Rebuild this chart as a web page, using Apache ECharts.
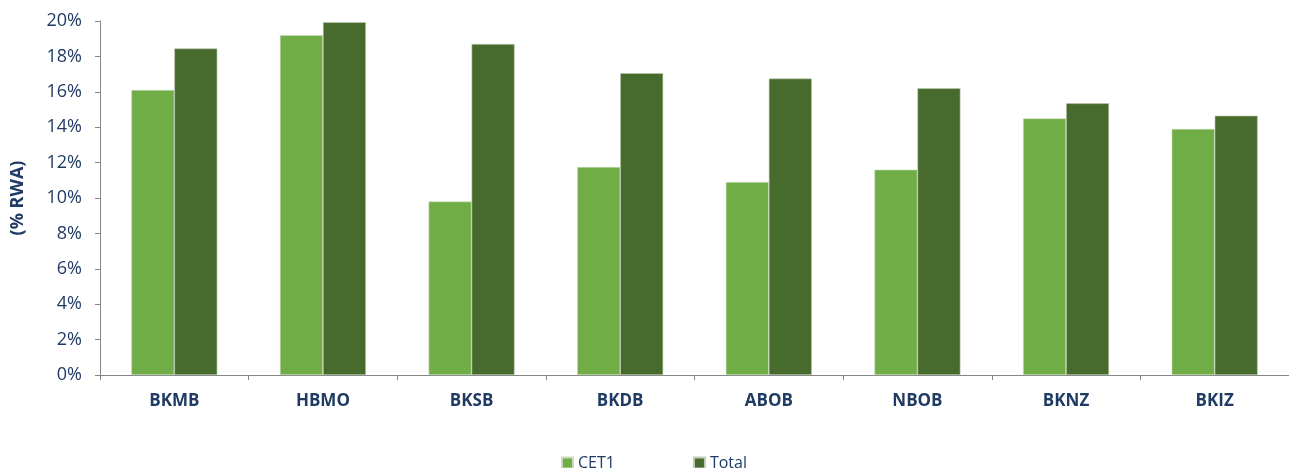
<!DOCTYPE html>
<html>
<head>
    <meta charset="utf-8">
    <title>CET1 and Total capital ratios</title>
    <script src="https://cdn.jsdelivr.net/npm/echarts@6/dist/echarts.min.js"></script>
    <style>
        html, body { margin: 0; padding: 0; background: #fff; }
        #main { width: 1289px; height: 468px; }
    </style>
</head>
<body>
<div id="main"></div>
<script>
    // data
    var banks = ['BKMB', 'HBMO', 'BKSB', 'BKDB', 'ABOB', 'NBOB', 'BKNZ', 'BKIZ'];
    var cet1 = [16.1, 19.2, 9.8, 11.75, 10.9, 11.6, 14.5, 13.9];
    var total = [18.45, 19.93, 18.7, 17.05, 16.75, 16.2, 15.35, 14.65];
    var seriesNames = ['CET1', 'Total'];

    var textColor = '#1F3B64';
    var axisColor = '#868686';

    var myChart = echarts.init(document.getElementById('main'));
    var option = {
        animation: false,
        textStyle: { fontFamily: 'Open Sans' },
        grid: { left: 100, right: 0, top: 21, bottom: 93, containLabel: false, outerBoundsMode: 'none' },
        legend: {
            data: seriesNames,
            left: 556,
            top: 450,
            itemWidth: 11,
            itemHeight: 11,
            itemGap: 78,
            icon: 'rect',
            textStyle: { color: textColor, fontSize: 16, fontFamily: 'Open Sans' }
        },
        xAxis: {
            type: 'category',
            data: banks,
            axisLine: { lineStyle: { color: axisColor } },
            axisTick: { show: true, length: 5, lineStyle: { color: axisColor } },
            axisLabel: { color: textColor, fontSize: 17, fontWeight: 'bold', margin: 18 }
        },
        yAxis: {
            type: 'value',
            min: 0,
            max: 20,
            interval: 2,
            name: '(% RWA)',
            nameLocation: 'middle',
            nameGap: 73,
            nameTextStyle: { color: textColor, fontSize: 18, fontWeight: 'bold' },
            axisLine: { show: true, lineStyle: { color: axisColor } },
            axisTick: { show: true, length: 5, lineStyle: { color: axisColor } },
            splitLine: { show: false },
            axisLabel: { color: textColor, fontSize: 18, margin: 18, formatter: '{value}%' }
        },
        series: [
            {
                name: seriesNames[0],
                type: 'bar',
                data: cet1,
                barWidth: 43,
                barGap: '0%',
                itemStyle: { color: '#70AD47', borderColor: '#C9DDBB', borderWidth: 0.6 }
            },
            {
                name: seriesNames[1],
                type: 'bar',
                data: total,
                barWidth: 43,
                barGap: '0%',
                itemStyle: { color: '#466B2C', borderColor: '#BFCDB5', borderWidth: 0.6 }
            }
        ]
    };
    myChart.setOption(option);
</script>
</body>
</html>
